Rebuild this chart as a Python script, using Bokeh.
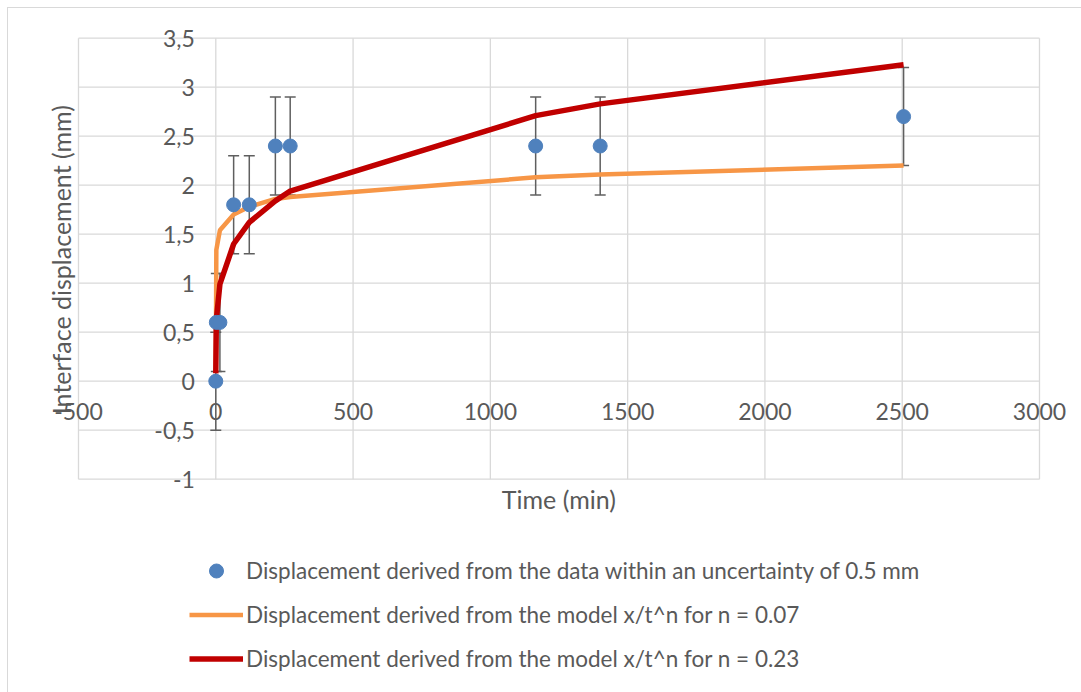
import math

from bokeh.embed import file_html
from bokeh.resources import INLINE
from bokeh.plotting import figure
from bokeh.core.properties import value
from bokeh.models import ColumnDataSource, Legend, LegendItem

# Measured interface displacement over time, with an uncertainty of 0.5 mm
time_min = [0, 2, 15, 65, 122, 217, 271, 1165, 1400, 2505]
displacement_mm = [0, 0.6, 0.6, 1.8, 1.8, 2.4, 2.4, 2.4, 2.4, 2.7]
uncertainty_mm = 0.5

# Model curves x/t^n evaluated at the same times
model_n007 = [0.1, 1.34, 1.54, 1.70, 1.78, 1.86, 1.88, 2.08, 2.11, 2.20]
model_n023 = [0.08, 0.63, 0.99, 1.40, 1.62, 1.84, 1.94, 2.71, 2.83, 3.23]

x_ticks = [-500, 0, 500, 1000, 1500, 2000, 2500, 3000]
y_ticks = [-1, -0.5, 0, 0.5, 1, 1.5, 2, 2.5, 3, 3.5]
x_labels = [str(v) for v in x_ticks]
y_labels = [str(v).replace(".", ",") for v in y_ticks]

FONT = "Lato"
TEXT = "#595959"
GRID = "#D9D9D9"
BAR = "#5F5F5F"

W, H = 1074, 685
# plot area in canvas pixels: left, right, top, bottom
PL, PR, PT, PB = 70, 1031, 29.7, 470.7
xs = (PR - PL) / (x_ticks[-1] - x_ticks[0])
ys = (PB - PT) / (y_ticks[-1] - y_ticks[0])
x0 = x_ticks[0] - PL / xs
y1 = y_ticks[-1] + PT / ys

p = figure(width=W, height=H, output_backend="svg", toolbar_location=None,
           x_range=(x0, x0 + W / xs), y_range=(y1 - H / ys, y1),
           min_border=0, outline_line_color=None)
p.margin = (7, 0, 0, 7)
p.styles = {"border-top": "1.5px solid #D9D9D9", "border-left": "1.5px solid #D9D9D9"}
p.axis.visible = False
p.grid.visible = False

xmin, xmax = x_ticks[0], x_ticks[-1]
ymin, ymax = y_ticks[0], y_ticks[-1]

# Gridlines (the outer ones frame the plot area)
p.segment(x0=x_ticks, y0=[ymin] * len(x_ticks), x1=x_ticks, y1=[ymax] * len(x_ticks),
          line_color=GRID, line_width=1.3)
p.segment(x0=[xmin] * len(y_ticks), y0=y_ticks, x1=[xmax] * len(y_ticks), y1=y_ticks,
          line_color=GRID, line_width=1.3)

# Tick labels next to the axes that cross at the origin
p.text(x=[0] * len(y_ticks), y=y_ticks, text=y_labels, x_offset=-21,
       text_align="right", text_baseline="middle", text_font=value(FONT),
       text_font_size="23px", text_color=TEXT)
p.text(x=x_ticks, y=[0] * len(x_ticks), text=x_labels, y_offset=22,
       text_align="center", text_baseline="top", text_font=value(FONT),
       text_font_size="23px", text_color=TEXT)

src = ColumnDataSource(dict(
    t=time_min,
    d=displacement_mm,
    lo=[v - uncertainty_mm for v in displacement_mm],
    hi=[v + uncertainty_mm for v in displacement_mm],
    m1=model_n007,
    m2=model_n023,
))

# Error bars with caps
p.segment(x0="t", y0="lo", x1="t", y1="hi", source=src, line_color=BAR, line_width=1.5)
p.scatter("t", "lo", source=src, marker="dash", size=11, line_color=BAR, line_width=1.5)
p.scatter("t", "hi", source=src, marker="dash", size=11, line_color=BAR, line_width=1.5)

r_orange = p.line("t", "m1", source=src, line_color="#F79646", line_width=4.5)
r_red = p.line("t", "m2", source=src, line_color="#C00000", line_width=5.5)
r_pts = p.scatter("t", "d", source=src, size=14, fill_color="#4F81BD",
                  line_color="#4F81BD")

legend = Legend(items=[
    LegendItem(label="Displacement derived from the data within an uncertainty of 0.5 mm",
               renderers=[r_pts]),
    LegendItem(label="Displacement derived from the model x/t^n for n = 0.07",
               renderers=[r_orange]),
    LegendItem(label="Displacement derived from the model x/t^n for n = 0.23",
               renderers=[r_red]),
], location=(181, 17), padding=0, margin=0, spacing=9,
    glyph_width=54, glyph_height=35, label_height=22, label_standoff=3,
    label_text_font=FONT, label_text_font_size="22.5px", label_text_color=TEXT,
    background_fill_alpha=0, border_line_color=None)
p.add_layout(legend, "center")

# Axis titles
p.text(x=[(xmin + xmax) / 2 - 0.5], y=[ymin - 0.207], text=["Time (min)"],
       text_align="center", text_baseline="middle", text_font=value(FONT),
       text_font_size="25px", text_color=TEXT)
p.text(x=[-562], y=[1.24], text=["Interface displacement (mm)"], angle=math.pi / 2,
       text_align="center", text_baseline="middle", text_font=value(FONT),
       text_font_size="25px", text_color=TEXT)

open("out.html", "w").write(file_html(p, INLINE))
